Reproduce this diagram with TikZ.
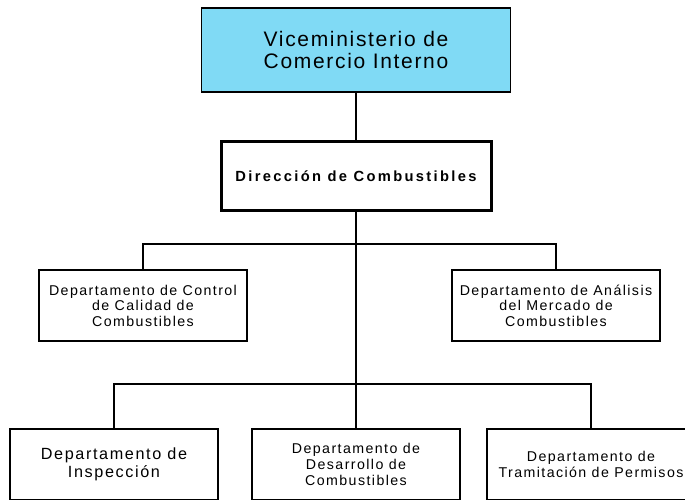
\documentclass[tikz,border=0pt]{standalone}
\usepackage{fontspec}
\setmainfont{Liberation Sans}
\newfontfamily\fdept[LetterSpace=10]{Liberation Sans}
\newfontfamily\ftop[LetterSpace=8]{Liberation Sans}
\newfontfamily\fdir[LetterSpace=16]{Liberation Sans}
\definecolor{vmcyan}{RGB}{128,218,245}
\tikzset{
  box/.style={draw=black, line width=1.4pt, rectangle, align=center, inner sep=0pt},
  topbox/.style={box, fill=vmcyan, minimum width=309pt, minimum height=84pt,
    font=\ftop\fontsize{21}{21.5}\selectfont},
  dirbox/.style={box, line width=3pt, minimum width=270pt, minimum height=69pt,
    font=\fdir\bfseries\fontsize{14.7}{16}\selectfont},
  midbox/.style={box, minimum width=208pt, minimum height=71pt,
    font=\fdept\fontsize{14.2}{15.5}\selectfont},
  lowbox/.style={box, minimum width=208pt, minimum height=71pt,
    font=\fdept\fontsize{14.2}{16}\selectfont},
  conn/.style={draw=black, line width=1.3pt}
}
\begin{document}
\begin{tikzpicture}[x=1pt,y=-1pt]
\useasboundingbox (0,0) rectangle (685,499);
\clip (0,0) rectangle (685,499);
\node[topbox] (vm) at (356,50) {Viceministerio de\\Comercio Interno};
\node[dirbox] (dir) at (356,176) {Dirección de Combustibles};
\node[midbox] (m1) at (143,305.5) {Departamento de Control\\de Calidad de\\Combustibles};
\node[midbox] (m2) at (556,305.5) {Departamento de Análisis\\del Mercado de\\Combustibles};
\node[lowbox, font=\fdept\fontsize{16.2}{18}\selectfont] (b1) at (114,464.5) {Departamento de\\Inspección};
\node[lowbox] (b2) at (356,464.5) {Departamento de\\Desarrollo de\\Combustibles};
\node[lowbox] (b3) at (591,464.5) {Departamento de\\Tramitación de Permisos};
\coordinate (j1) at (356,244);
\coordinate (j2) at (356,384);
\draw[conn] (vm.south) -- (dir.north);
\draw[conn] (dir.south) -- (b2.north);
\draw[conn] (m1.north) |- (j1) -| (m2.north);
\draw[conn] (b1.north) |- (j2) -| (b3.north);
\end{tikzpicture}
\end{document}
